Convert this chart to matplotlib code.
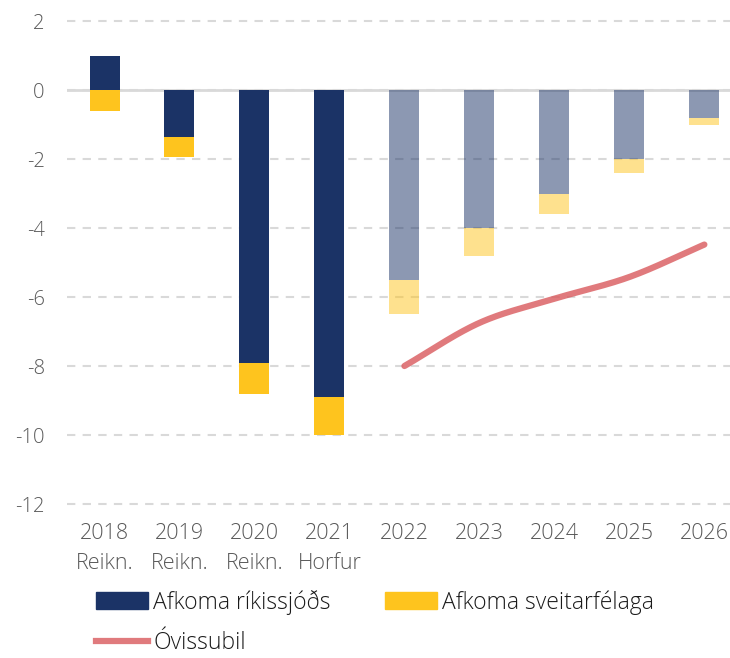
import numpy as np
import matplotlib
matplotlib.use("Agg")
import matplotlib.pyplot as plt
from matplotlib.patches import Patch
from matplotlib.lines import Line2D

# === Data (% of GDP) ===
years = ["2018", "2019", "2020", "2021", "2022", "2023", "2024", "2025", "2026"]
sub_labels = ["Reikn.", "Reikn.", "Reikn.", "Horfur", "", "", "", "", ""]
rikissjodur = [1.0, -1.35, -7.9, -8.9, -5.5, -4.0, -3.0, -2.0, -0.8]
sveitarfelog = [-0.6, -0.6, -0.9, -1.1, -1.0, -0.8, -0.6, -0.4, -0.2]
forecast = [False, False, False, False, True, True, True, True, True]
ovissa_years = ["2022", "2023", "2024", "2025", "2026"]
ovissubil = [-8.0, -6.75, -6.05, -5.42, -4.48]

NAVY = "#1b3366"
YELLOW = "#fec41e"
RED = "#d9595c"
GRID = "#d9d9d9"

plt.rcParams["font.family"] = ["Open Sans", "DejaVu Sans"]
plt.rcParams["font.weight"] = "light"
plt.rcParams["axes.unicode_minus"] = False

fig = plt.figure(figsize=(7.3, 6.58), dpi=100)
ax = fig.add_axes([0.0918, 0.2183, 0.908, 0.7655])

x = np.arange(len(years))
w = 0.4
for i in x:
    a = 0.5 if forecast[i] else 1.0
    top = rikissjodur[i]
    ax.bar(i, top, width=w, color=NAVY, alpha=a, zorder=2, linewidth=0)
    base = min(top, 0)
    ax.bar(i, sveitarfelog[i], bottom=base, width=w, color=YELLOW, alpha=a,
           zorder=2, linewidth=0)

# smooth line through the uncertainty points (cubic Hermite)
xl = np.array([years.index(y) for y in ovissa_years], dtype=float)
yl = np.array(ovissubil)
xs = np.linspace(xl[0], xl[-1], 200)
def hermite(xp, yp, xs):
    n = len(xp)
    m = np.zeros(n)
    m[1:-1] = (yp[2:] - yp[:-2]) / (xp[2:] - xp[:-2])
    m[0] = (yp[1] - yp[0]) / (xp[1] - xp[0])
    m[-1] = (yp[-1] - yp[-2]) / (xp[-1] - xp[-2])
    out = np.empty_like(xs)
    for j, xv in enumerate(xs):
        k = min(np.searchsorted(xp, xv, side="right") - 1, n - 2)
        h = xp[k + 1] - xp[k]
        t = (xv - xp[k]) / h
        h00 = 2 * t**3 - 3 * t**2 + 1
        h10 = t**3 - 2 * t**2 + t
        h01 = -2 * t**3 + 3 * t**2
        h11 = t**3 - t**2
        out[j] = h00 * yp[k] + h10 * h * m[k] + h01 * yp[k + 1] + h11 * h * m[k + 1]
    return out
ax.plot(xs, hermite(xl, yl, xs), color=RED, alpha=0.8, lw=4.5,
        solid_capstyle="round", zorder=3)

ax.set_ylim(-12.3, 2.3)
ax.set_xlim(-0.5, 8.34)
ax.set_yticks(np.arange(-12, 3, 2))
ax.yaxis.grid(True, color=GRID, lw=1.5, ls=(0, (4, 3.5)), zorder=1)
ax.axhline(0, color=GRID, lw=2, zorder=1)
ax.set_xticks(x)
ax.set_xticklabels([y + ("\n" + s if s else "") for y, s in zip(years, sub_labels)],
                   linespacing=1.6)
ax.tick_params(axis="both", length=0, colors="#595959")
ax.tick_params(axis="x", pad=6, labelsize=15.5)
ax.tick_params(axis="y", pad=16, labelsize=14.5)
for s in ax.spines.values():
    s.set_visible(False)

handles = [Patch(color=NAVY, label="Afkoma ríkissjóðs"),
           Line2D([], [], color=RED, alpha=0.8, lw=4.5, label="Óvissubil"),
           Patch(color=YELLOW, label="Afkoma sveitarfélaga")]
fig.legend(handles=handles, ncol=2, loc="upper left", bbox_to_anchor=(0.1315, 0.104),
           frameon=False, fontsize=16.5, handlelength=2.27, handletextpad=0.22,
           columnspacing=2.38, labelspacing=0.72, labelcolor="#1a1a1a",
           borderpad=0, borderaxespad=0)

fig.savefig("out.png", dpi=100)
